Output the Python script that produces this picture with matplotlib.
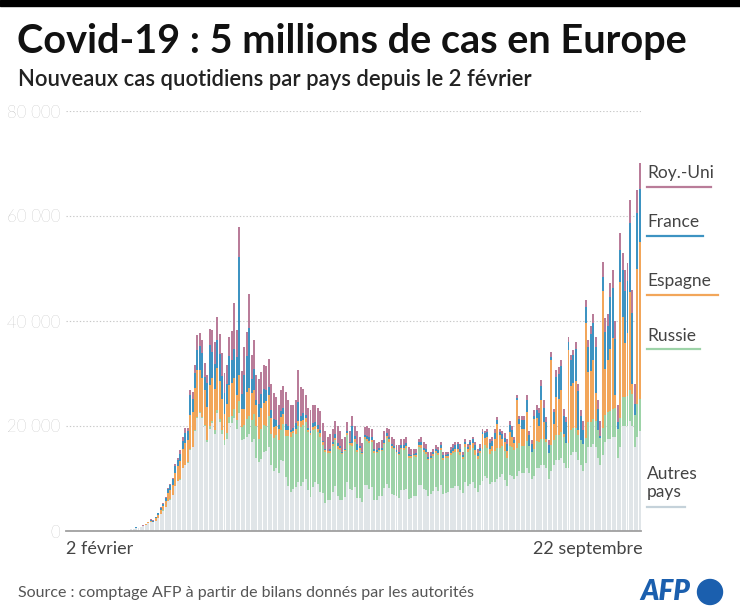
import numpy as np
import matplotlib.pyplot as plt
from matplotlib.patches import Rectangle, Ellipse

# Nouveaux cas quotidiens (milliers), du 2 février au 22 septembre 2020
autres = [
    0, 0, 0, 0, 0, 0, 0, 0, 0, 0, 0, 0, 0, 0, 0, 0, 0, 0, 0, 0.02, 0.06, 0.08, 0.08, 0.12, 0.15, 0.25, 0.3, 0.35,
    0.6, 0.5, 0.7, 0.9, 1.2, 1.5, 1.8, 1.7, 2.0, 2.5, 3.3, 3.9, 4.5, 5.7, 6.0, 6.8, 8.6, 9.5, 9.8, 12.0, 12.5, 13.0,
    15.5, 16.0, 19.0, 21.5, 22.5, 21.5, 20.0, 17.0, 19.5,
    20.5, 18.5, 22.4, 20.8, 18.5, 16.4, 17.5, 20.5, 20.5, 21.5, 19.5, 22.5, 17.3, 17.5, 18.0, 18.5, 17.0, 17.5,
    14.0, 13.2, 13.7, 15.0, 15.3, 16.0, 12.6, 11.4, 12.0, 11.0, 13.5, 13.3,
    10.2, 8.5, 7.4, 8.0, 8.4, 9.4, 8.6, 9.4, 10.0, 7.8, 6.5, 8.3, 9.4, 8.9, 7.4, 7.2, 5.4, 6.0, 5.9, 7.4, 8.5, 6.7,
    6.0, 6.0, 6.4, 9.3, 8.0, 7.8, 8.4, 6.2, 6.2,
    5.6, 8.7, 8.7, 8.0, 8.3, 6.0, 6.0, 6.7, 6.6, 8.1, 9.0, 8.2, 7.1, 6.8, 6.7, 6.2, 7.8, 7.8, 8.0, 6.1, 6.3, 6.7,
    6.7, 8.8, 8.8, 8.0, 7.9, 6.6, 7.0, 7.7,
    8.3, 7.6, 8.7, 7.0, 7.2, 7.4, 8.1, 8.2, 8.6, 8.5, 7.9, 7.2, 9.4, 8.5, 9.0, 9.4, 8.1, 7.5, 8.7, 9.5, 10.5, 10.1,
    8.9, 9.4, 9.4, 10.0, 10.3, 10.8, 9.7, 8.5, 10.6,
    10.5, 10.0, 10.5, 11.5, 11.0, 11.0, 12.0, 11.0, 10.0, 10.5, 12.0, 12.0, 12.5, 12.5, 12.0, 10.0, 11.5, 12.5,
    13.5, 13.5, 14.0, 13.0, 12.0, 12.0, 14.5, 15.0, 15.0, 13.5, 12.5, 11.5, 13.0,
    16.0, 16.0, 16.5, 16.0, 14.0, 12.5, 14.5, 17.0, 17.5, 17.5, 18.0, 18.0, 14.0, 16.0, 20.0, 20.0, 20.0, 21.0,
    20.0, 16.0, 18.0, 19.0,
]
russie = [
    0, 0, 0, 0, 0, 0, 0, 0, 0, 0, 0, 0, 0, 0, 0, 0, 0, 0, 0, 0, 0, 0, 0, 0, 0, 0, 0, 0,
    0, 0, 0, 0, 0, 0, 0, 0, 0, 0.01, 0.01, 0.01, 0.01, 0.01, 0.02, 0.03, 0.03, 0.03, 0.05, 0.05, 0.05, 0.06,
    0.07, 0.07, 0.16, 0.2, 0.2, 0.23, 0.27, 0.3, 0.5,
    0.44, 0.77, 0.6, 0.58, 0.66, 0.95, 1.15, 1.15, 1.46, 1.78, 1.67, 2.2, 2.56, 2.77, 3.39, 3.45, 4.07, 4.78,
    6.06, 4.27, 5.64, 5.24, 4.77, 5.85, 5.97, 6.36, 6.2, 6.4, 5.8, 7.1,
    7.9, 9.6, 10.6, 10.6, 10.1, 10.6, 11.2, 10.7, 10.8, 11.0, 11.7, 10.9, 10.0, 10.0, 10.6, 9.2, 9.7, 8.9, 9.0,
    8.8, 8.8, 8.9, 9.4, 8.6, 8.9, 8.9, 8.3, 8.4, 8.6, 8.9, 9.3,
    9.0, 8.9, 8.5, 8.8, 8.7, 8.9, 8.9, 8.6, 8.6, 8.4, 8.8, 8.8, 8.7, 8.8, 8.2, 8.2, 7.8, 7.6, 7.8, 7.9, 7.7, 7.6,
    7.4, 7.2, 7.1, 7.0, 6.8, 6.9, 6.7, 6.6,
    6.6, 6.8, 6.7, 6.6, 6.7, 6.6, 6.4, 6.6, 6.5, 6.6, 6.6, 6.6, 6.6, 6.5, 6.4, 6.4, 6.4, 6.2, 6.1, 6.1, 5.8, 5.8,
    5.8, 5.8, 5.9, 5.8, 5.6, 5.4, 5.5, 5.5, 5.5,
    5.5, 5.4, 5.4, 5.3, 5.2, 5.2, 5.2, 5.2, 5.1, 5.1, 5.1, 5.0, 5.0, 5.1, 5.0, 4.9, 4.9, 4.8, 4.8, 4.8, 4.8, 4.9,
    4.8, 4.7, 4.7, 4.7, 4.7, 4.7, 4.9, 5.0, 4.7,
    4.7, 4.7, 4.8, 4.9, 5.2, 5.2, 5.1, 5.1, 5.2, 5.4, 5.3, 5.4, 5.4, 5.5, 5.5, 5.6, 5.7, 5.9, 6.1, 6.1, 6.2, 6.2,
]
espagne = [
    0, 0, 0, 0, 0, 0, 0, 0, 0, 0, 0, 0, 0, 0, 0, 0, 0, 0, 0, 0, 0, 0, 0, 0, 0, 0, 0, 0,
    0.03, 0.04, 0.05, 0.07, 0.08, 0.12, 0.15, 0.1, 0.4, 0.6, 0.6, 0.8, 1.2, 1.5, 1.8, 2.0, 2.5, 2.8, 3.4, 3.5,
    4.3, 4.3, 6.5, 6.6, 8.0, 9.0, 8.0, 7.5, 6.5, 6.4, 7.8,
    8.2, 7.7, 8.1, 7.1, 6.0, 5.0, 5.5, 6.2, 6.2, 5.8, 4.8, 5.0, 3.3, 3.0, 5.1, 5.2, 5.3, 4.5, 4.0, 4.2, 4.0, 4.2,
    4.6, 4.0, 3.0, 2.0, 1.8, 2.0, 2.5, 1.9,
    1.2, 1.1, 0.8, 0.5, 0.9, 1.0, 1.1, 1.0, 0.7, 0.5, 0.4, 0.6, 0.6, 0.5, 0.6, 0.5, 0.4, 0.3, 0.4, 0.4, 0.5, 0.5,
    0.4, 0.3, 0.2, 0.4, 0.4, 0.5, 0.5, 0.4, 0.3,
    0.2, 0.3, 0.4, 0.3, 0.3, 0.3, 0.2, 0.2, 0.3, 0.3, 0.3, 0.5, 0.3, 0.3, 0.2, 0.3, 0.3, 0.4, 0.4, 0.3, 0.3, 0.2,
    0.3, 0.3, 0.4, 0.4, 0.4, 0.3, 0.3, 0.3,
    0.3, 0.4, 0.4, 0.4, 0.3, 0.3, 0.4, 0.5, 0.6, 0.6, 0.5, 0.3, 0.6, 0.7, 0.9, 0.9, 1.0, 0.6, 0.5, 2.8, 1.4, 2.0,
    1.0, 0.9, 2.3, 4.6, 2.3, 1.4, 1.8, 1.2, 2.8,
    2.0, 1.3, 9.0, 3.5, 3.2, 3.3, 5.5, 0, 0, 5.8, 4.5, 3.0, 7.4, 3.1, 0.5, 0, 16.1, 3.1, 7.3, 6.9, 8.1, 0.5, 0,
    17.7, 8.5, 8.4, 8.9, 1.0, 0, 0, 21.9,
    9.5, 9.8, 11.2, 5.3, 0, 0, 26.2, 8.8, 9.8, 11.8, 13.5, 2.5, 0, 25.9, 15.3, 10.2, 12.1, 18.6, 1.9, 0, 25.7, 29.9,
]
france = [
    0, 0, 0, 0, 0, 0, 0, 0, 0, 0, 0, 0, 0, 0, 0, 0, 0, 0, 0, 0, 0, 0, 0, 0, 0, 0, 0, 0,
    0.05, 0.04, 0.06, 0.07, 0.1, 0.1, 0.2, 0.2, 0.2, 0.3, 0.5, 0.5, 0.6, 0.8, 0.9, 1.1, 1.2, 1.1, 1.4, 1.6, 1.8,
    1.6, 3.8, 2.5, 2.9, 3.8, 4.6, 4.6, 2.6, 4.4, 7.6,
    4.9, 4.9, 5.2, 5.3, 4.3, 3.9, 3.8, 5.5, 4.4, 5.6, 7.1, 22.5, 3.0, 6.5, 6.9, 11.5, 2.6, 4.0, 0.8, 2.5, 2.7, 2.7,
    2.2, 1.6, 1.4, 1.6, 1.2, 0.7, 1.0, 1.2,
    1.0, 0.8, 0.4, 0.6, 1.2, 3.6, 1.0, 1.3, 0.6, 0.3, 0.5, 0.8, 0.8, 0.7, 0.6, 0.2, 0.1, 0.1, 0.3, 0.4, 0.6, 0.6,
    0.3, 0.2, 0.1, 0.5, 0.3, 3.3, 0.6, 1.1, 0.3,
    0.3, 0.3, 0.5, 0.8, 0.6, 0.5, 0.3, 0.3, 0.4, 0.5, 0.6, 0.5, 0.4, 0.3, 0.3, 0.4, 0.5, 0.5, 0.5, 0.4, 0.2, 0.2,
    0.4, 0.6, 0.6, 0.5, 0.5, 0.3, 0.2, 0.4,
    0.4, 0.6, 0.6, 0.4, 0.3, 0.3, 0.5, 0.6, 0.7, 0.8, 0.7, 0.3, 0.4, 0.3, 0.6, 0.8, 0.8, 0.6, 0.5, 0.5, 0.9, 1.0,
    1.0, 1.1, 1.1, 0.7, 0.6, 0.8, 0.8, 1.4, 1.3,
    1.3, 0.6, 0.4, 1.0, 1.7, 1.6, 2.3, 2.0, 1.4, 0.5, 1.4, 2.5, 2.7, 2.8, 3.3, 1.4, 0.6, 2.2, 3.8, 4.8, 4.6, 3.6,
    4.0, 1.6, 4.9, 5.4, 6.1, 7.4, 4.5, 2.8, 3.0,
    4.9, 7.0, 7.2, 8.9, 4.0, 0.4, 2.6, 7.1, 6.5, 9.8, 9.4, 10.6, 1.3, 6.2, 9.0, 10.0, 9.8, 13.2, 13.5, 2.0, 10.6, 10.0,
]
royaume_uni = [
    0, 0, 0, 0, 0, 0, 0, 0, 0, 0, 0, 0, 0, 0, 0, 0, 0, 0, 0, 0, 0, 0, 0, 0, 0, 0, 0, 0,
    0.01, 0.01, 0.01, 0.02, 0.03, 0.04, 0.05, 0.05, 0.07, 0.05, 0.1, 0.13, 0.2, 0.25, 0.3, 0.25, 0.4, 0.4, 0.7,
    0.7, 1.0, 0.7, 1.0, 1.4, 1.5, 2.9, 2.5, 2.5, 2.6, 1.6, 3.0,
    4.3, 4.2, 4.5, 3.7, 4.5, 3.8, 3.6, 3.6, 5.5, 8.7, 5.2, 5.7, 4.3, 5.3, 4.6, 6.4, 4.6, 5.6, 4.8, 4.7, 4.3, 4.45,
    4.6, 5.4, 5.0, 4.9, 4.3, 3.9, 4.1, 4.1,
    6.2, 5.0, 4.8, 4.3, 4.4, 6.1, 5.6, 4.6, 3.9, 3.9, 3.9, 3.4, 3.2, 3.4, 3.6, 3.5, 3.4, 2.7, 2.8, 2.5, 2.6, 3.3,
    2.9, 2.4, 2.4, 1.6, 2.0, 2.0, 1.9, 2.4, 1.9,
    1.6, 1.6, 1.9, 1.8, 1.6, 1.6, 1.3, 1.2, 1.4, 1.7, 1.0, 1.5, 1.5, 1.3, 1.0, 1.3, 1.1, 1.2, 1.3, 1.3, 1.2, 1.0,
    0.9, 0.6, 1.1, 1.1, 0.9, 0.9, 0.8, 0.7,
    0.8, 0.6, 0.6, 0.6, 0.5, 0.4, 0.6, 0.6, 0.6, 0.5, 0.8, 0.6, 0.5, 0.5, 0.4, 0.5, 0.7, 0.8, 0.7, 0.6, 0.4, 0.6,
    0.8, 0.8, 0.8, 0.7, 0.7, 0.6, 0.8, 0.9, 0.8,
    0.7, 0.7, 0.7, 0.7, 0.9, 0.9, 0.9, 0.8, 0.8, 1.1, 1.0, 1.0, 1.1, 1.4, 1.0, 1.0, 1.0, 0.7, 1.2, 1.2, 1.0, 1.3,
    1.0, 1.0, 0.9, 1.0, 1.3, 1.4, 1.1, 1.7, 1.4,
    1.3, 1.5, 1.7, 1.9, 1.8, 2.9, 2.9, 2.5, 2.4, 2.7, 3.5, 3.5, 3.3, 3.1, 3.1, 3.9, 3.4, 4.3, 4.4, 3.9, 4.4, 4.9,
]

noms = ["Autres\npays", "Russie", "Espagne", "France", "Roy.-Uni"]
couleurs = ["#e0e5e8", "#9dd3a8", "#f2a65a", "#3d93c2", "#b97c99"]
yticks = [0, 20000, 40000, 60000, 80000]
ylabels = ["0", "20 000", "40 000", "60 000", "80 000"]

W, H = 740, 612
fig = plt.figure(figsize=(W / 100, H / 100), dpi=100)

def px(x, y):
    return x / W, 1 - y / H

# bandeau noir en haut
fig.patches.append(Rectangle((0, 1 - 6 / H), 1, 6 / H, transform=fig.transFigure, color="black"))

ax = fig.add_axes([66 / W, 1 - 531 / H, (641 - 66) / W, (531 - 111) / H])
jours = np.arange(len(autres))
bas = np.zeros(len(autres))
for vals, c in zip([autres, russie, espagne, france, royaume_uni], couleurs):
    v = np.array(vals) * 1000
    ax.bar(jours, v, bottom=bas, width=0.8, color=c, linewidth=0)
    bas += v

ax.set_xlim(-0.5, len(jours) - 0.5)
ax.set_ylim(0, 80000)
ax.set_yticks(yticks)
ax.set_yticklabels(ylabels, fontsize=12, color="#9a9a9a", family="Lato", fontweight="light")
ax.tick_params(axis="y", length=0, pad=4)
ax.set_xticks([])
ax.yaxis.grid(True, linestyle=(0, (1.2, 1.8)), color="#c8c8c8", linewidth=0.8)
ax.set_axisbelow(True)
for s in ["top", "right", "left"]:
    ax.spines[s].set_visible(False)
ax.spines["bottom"].set_color("#a0a0a0")
ax.spines["bottom"].set_linewidth(1.3)

# titres
fig.text(*px(17, 42), "Covid-19 : 5 millions de cas en Europe", fontsize=28.5, fontweight="bold",
         family="Lato", va="center", ha="left", color="#111111")
fig.text(*px(18, 80), "Nouveaux cas quotidiens par pays depuis le 2 février", fontsize=15.8,
         fontweight="semibold", family="Lato", va="center", ha="left", color="#222222")

# dates
fig.text(*px(66, 549), "2 février", fontsize=13, family="Lato", va="center", ha="left", color="#444444")
fig.text(*px(643, 549), "22 septembre", fontsize=13, family="Lato", va="center", ha="right", color="#444444")

# légende à droite
leg = [("Roy.-Uni", 173, 187, 711), ("France", 222, 236, 703), ("Espagne", 281, 295, 718),
       ("Russie", 336, 349, 700), ("Autres\npays", 483, 507, 685)]
leg_col = [couleurs[4], couleurs[3], couleurs[2], couleurs[1], "#c5d2da"]
for (txt, yt, yl, xe), c in zip(leg, leg_col):
    fig.text(*px(647, yt), txt, fontsize=12.5, family="Lato", va="center", ha="left",
             color="#444444", linespacing=1.2)
    x0, y0 = px(647, yl)
    x1, _ = px(xe, yl)
    fig.add_artist(plt.Line2D([x0, x1], [y0, y0], transform=fig.transFigure, color=c, linewidth=1.6))

# source
fig.text(*px(18, 593), "Source : comptage AFP à partir de bilans donnés par les autorités", fontsize=11.5,
         family="Lato", va="center", ha="left", color="#555555")

# logo AFP
fig.text(*px(640, 592), "AFP", fontsize=20, fontweight="heavy", style="italic", family="Lato",
         va="center", ha="left", color="#1b5fae")
fig.patches.append(Ellipse(px(710, 592), 25 / W, 25 / H, transform=fig.transFigure, color="#1b5fae"))

fig.savefig("out.png", dpi=100)
